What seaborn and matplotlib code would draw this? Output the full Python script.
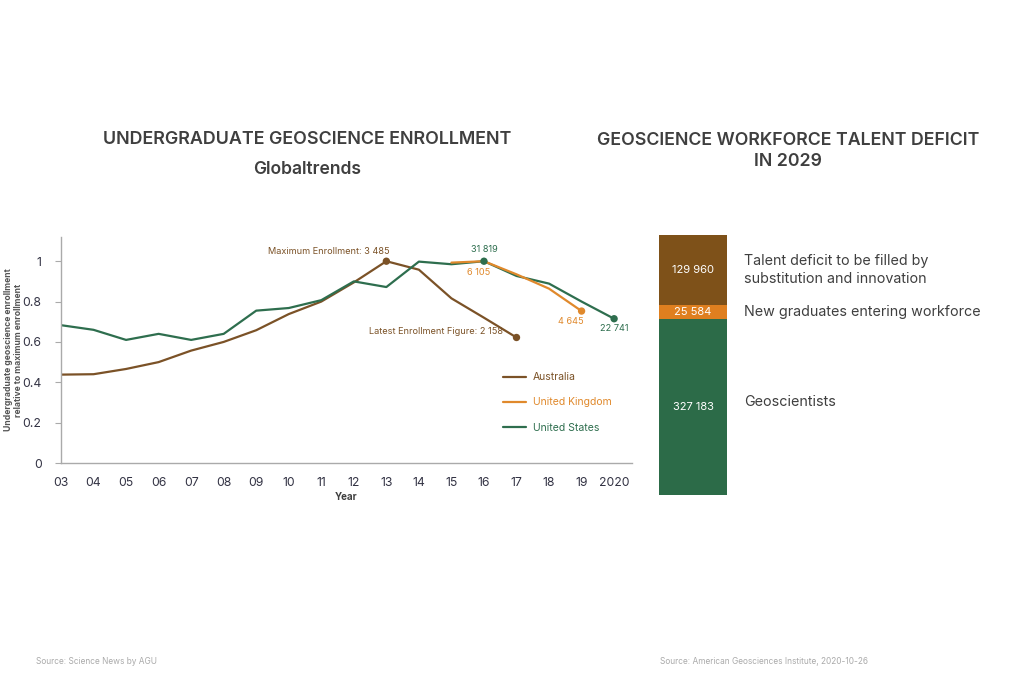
import numpy as np
import pandas as pd
import matplotlib
matplotlib.use("Agg")
import matplotlib.pyplot as plt
import seaborn as sns
from matplotlib.lines import Line2D

# ---------------- data ----------------
years = list(range(3, 21))
year_labels = ['03', '04', '05', '06', '07', '08', '09', '10', '11', '12',
               '13', '14', '15', '16', '17', '18', '19', '2020']
aus_years = list(range(3, 18))
australia = [0.438, 0.44, 0.466, 0.50, 0.557, 0.60, 0.658, 0.738, 0.80, 0.895,
             1.0, 0.958, 0.816, 0.72, 0.622]
uk_years = list(range(15, 20))
united_kingdom = [0.993, 1.0, 0.935, 0.864, 0.753]
us_years = list(range(3, 21))
united_states = [0.683, 0.66, 0.61, 0.64, 0.61, 0.64, 0.755, 0.768, 0.807, 0.90,
                 0.872, 0.998, 0.985, 1.0, 0.927, 0.889, 0.80, 0.715]
countries = ['Australia', 'United Kingdom', 'United States']

deficit_labels = ['Geoscientists', 'New graduates entering workforce',
                  'Talent deficit to be filled by\nsubstitution and innovation']
deficit_values = [327183, 25584, 129960]
deficit_text = ['327 183', '25 584', '129 960']

# ---------------- style ----------------
sns.set_theme(style="white")
plt.rcParams['font.family'] = ['Inter', 'DejaVu Sans']

C_AUS = '#7B5227'
C_UK = '#E0892C'
C_US = '#2E6E4E'
B_BROWN = '#7E5119'
B_ORANGE = '#DF7F1F'
B_GREEN = '#2C6B48'
TXT = '#3f3f3f'

df = pd.concat([
    pd.DataFrame({'Year': aus_years, 'Value': australia, 'Country': countries[0]}),
    pd.DataFrame({'Year': uk_years, 'Value': united_kingdom, 'Country': countries[1]}),
    pd.DataFrame({'Year': us_years, 'Value': united_states, 'Country': countries[2]}),
])

fig = plt.figure(figsize=(10.24, 6.83), dpi=100)
fig.patch.set_facecolor('white')

# ---------------- line chart ----------------
ax = fig.add_axes([61 / 1024, 1 - 463 / 683, 571 / 1024, 226 / 683])
palette = {countries[0]: C_AUS, countries[1]: C_UK, countries[2]: C_US}
sns.lineplot(data=df, x='Year', y='Value', hue='Country', palette=palette,
             hue_order=[countries[0], countries[2], countries[1]],
             linewidth=1.6, ax=ax, legend=False)

ax.set_xlim(3, 20.55)
ax.set_ylim(0, 1.12)
ax.set_xticks(years)
ax.set_xticklabels(year_labels)
ax.set_yticks([0, 0.2, 0.4, 0.6, 0.8, 1.0])
ax.set_yticklabels(['0', '0.2', '0.4', '0.6', '0.8', '1'])
ax.tick_params(axis='x', length=0, pad=10, labelsize=8.8, labelcolor='#333344')
ax.tick_params(axis='y', length=4, width=0.8, color='#aaaaaa', pad=10,
               labelsize=8.8, labelcolor='#333344', left=True)
for s in ['top', 'right']:
    ax.spines[s].set_visible(False)
for s in ['left', 'bottom']:
    ax.spines[s].set_color('#aaaaaa')
    ax.spines[s].set_linewidth(1)
ax.set_xlabel('Year', fontsize=7, fontweight='bold', color=TXT, labelpad=2)
ax.set_ylabel('Undergraduate geoscience enrollment\nrelative to maximum enrollment',
              fontsize=6.2, fontweight='bold', color='#555555', linespacing=1.2)
ax.yaxis.set_label_coords(-0.066, 0.5)
ax.grid(False)

# markers
sns.scatterplot(x=[aus_years[10], aus_years[-1]], y=[australia[10], australia[-1]],
                color=C_AUS, s=28, edgecolor='none', ax=ax, zorder=5)
sns.scatterplot(x=[uk_years[-1]], y=[united_kingdom[-1]],
                color=C_UK, s=28, edgecolor='none', ax=ax, zorder=5)
sns.scatterplot(x=[us_years[13], us_years[-1]], y=[united_states[13], united_states[-1]],
                color=C_US, s=28, edgecolor='none', ax=ax, zorder=6)

ann = dict(fontsize=6.6, textcoords='offset points')
ax.annotate('Maximum Enrollment: 3 485', (13, 1.0), xytext=(2, 4),
            ha='right', va='bottom', color=C_AUS, **ann)
ax.annotate('Latest Enrollment Figure: 2 158', (17, australia[-1]), xytext=(-10, 4),
            ha='right', va='center', color=C_AUS, **ann)
ax.annotate('31 819', (16, 1.0), xytext=(0, 5), ha='center', va='bottom',
            color=C_US, **ann)
ax.annotate('6 105', (16, 1.0), xytext=(-4, -5), ha='center', va='top',
            color=C_UK, **ann)
ax.annotate('4 645', (19, united_kingdom[-1]), xytext=(-8, -4), ha='center', va='top',
            color=C_UK, **ann)
ax.annotate('22 741', (20, united_states[-1]), xytext=(0, -4), ha='center', va='top',
            color=C_US, **ann)

# legend
handles = [Line2D([0], [0], color=c, lw=1.6) for c in (C_AUS, C_UK, C_US)]
leg = ax.legend(handles, countries, loc='upper left',
                bbox_to_anchor=((494 - 61) / 571, (463 - 363) / 226),
                frameon=False, fontsize=7.5, handlelength=2.2, handletextpad=0.6,
                labelspacing=1.45, labelcolor=[C_AUS, C_UK, C_US])

# ---------------- stacked bar ----------------
bx = fig.add_axes([659 / 1024, 1 - 495 / 683, 68 / 1024, 260 / 683])
bar_colors = [B_GREEN, B_ORANGE, B_BROWN]
bottoms = np.concatenate([[0], np.cumsum(deficit_values)[:-1]])
bx.bar([0] * 3, deficit_values, bottom=bottoms, width=1.0, color=bar_colors,
       edgecolor='none')
bx.set_xlim(-0.5, 0.5)
bx.set_ylim(0, sum(deficit_values))
bx.axis('off')
for b, v, t in zip(bottoms, deficit_values, deficit_text):
    bx.text(0, b + v / 2, t, ha='center', va='center', color='white', fontsize=8)

label_y = [402, 312, 270]
for lab, yy in zip(deficit_labels, label_y):
    fig.text(744 / 1024, 1 - yy / 683, lab, ha='left', va='center',
             fontsize=10.3, color=TXT, linespacing=1.3)

# ---------------- titles ----------------
fig.text(307 / 1024, 1 - 140 / 683, 'UNDERGRADUATE GEOSCIENCE ENROLLMENT',
         ha='center', va='center', fontsize=12.9, fontweight='semibold', color=TXT)
fig.text(307 / 1024, 1 - 169 / 683, 'Globaltrends',
         ha='center', va='center', fontsize=12.6, fontweight='semibold', color=TXT)
fig.text(788 / 1024, 1 - 151 / 683, 'GEOSCIENCE WORKFORCE TALENT DEFICIT\nIN 2029',
         ha='center', va='center', fontsize=12.8, fontweight='semibold', color=TXT,
         linespacing=1.35)

# sources
fig.text(36 / 1024, 1 - 661 / 683, 'Source: Science News by AGU',
         ha='left', va='center', fontsize=6, color='#aaaaaa')
fig.text(660 / 1024, 1 - 661 / 683, 'Source: American Geosciences Institute, 2020-10-26',
         ha='left', va='center', fontsize=6, color='#aaaaaa')

fig.savefig('out.png', dpi=100, facecolor='white')
